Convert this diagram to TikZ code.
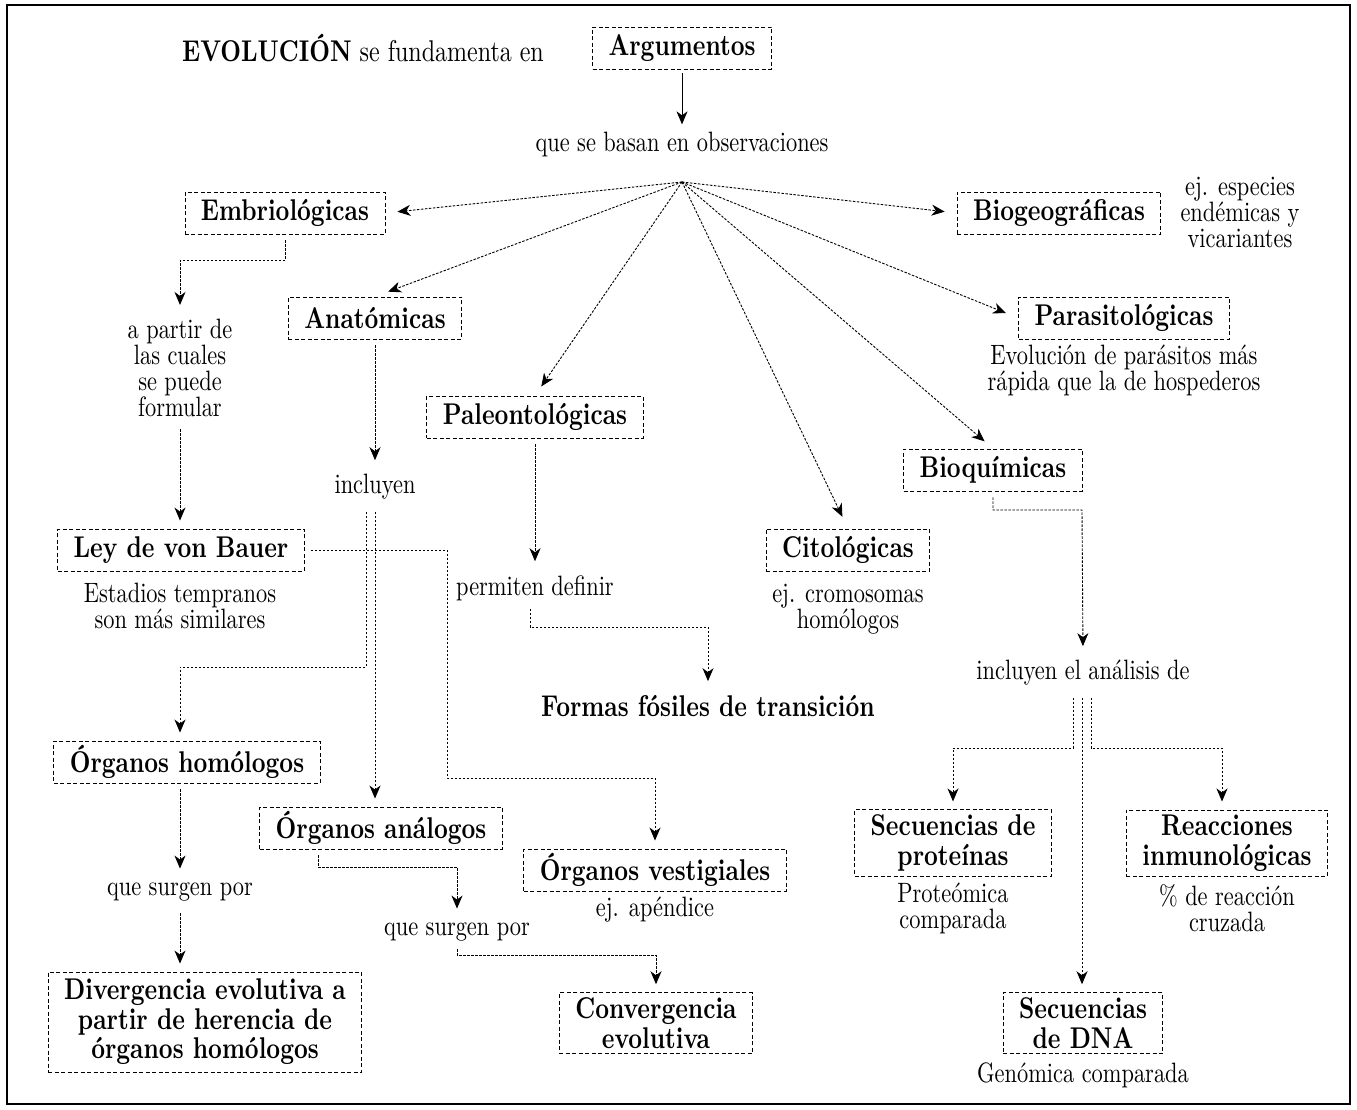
\documentclass[tikz,border=0pt]{standalone}
\usepackage{fontspec}
\setmainfont{lmroman10}[Extension=.otf, UprightFont=*-regular, BoldFont=*-bold, FakeStretch=0.8]
\usetikzlibrary{arrows.meta}
\tikzset{
  box/.style={draw, dash pattern=on 4pt off 2.5pt, line width=0.9pt,
    font=\bfseries\fontsize{30}{29.5}\selectfont, align=center,
    inner xsep=16pt, inner ysep=2pt, minimum height=42pt},
  tallbox/.style={box, inner ysep=5pt},
  note/.style={font=\fontsize{28}{26}\selectfont, align=center, inner sep=6pt},
  conn/.style={-{Stealth[length=13pt,width=11pt,inset=4pt]},
    dash pattern=on 2.5pt off 1.5pt, line width=0.9pt,
    shorten <=6pt, shorten >=8pt},
}

\begin{document}
\begin{tikzpicture}[x=1pt,y=-1pt]
\useasboundingbox (0,0) rectangle (1357,1110);
\draw[line width=1.4pt] (7,5) rectangle (1350,1104);

% top
\node[note, font=\fontsize{30}{26}\selectfont] (title) at (363,48) {\textbf{EVOLUCIÓN} se fundamenta en};
\node[box] (arg) at (682,48) {Argumentos};
\node[note] (basan) at (682,145) {que se basan en observaciones};
\coordinate (hub) at (682,182);
\draw[-{Stealth[length=13pt,width=11pt,inset=4pt]}, line width=0.9pt, shorten <=4pt, shorten >=2pt] (arg) -- (basan);

% kinds of evidence
\node[box] (embr) at (285,213) {Embriológicas};
\node[box] (biogeo) at (1059,213) {Biogeográficas};
\node[note] (ejbio) at (1240,212) {ej. especies\\endémicas y\\vicariantes};
\node[box] (anat) at (375,318) {Anatómicas};
\node[box] (parasit) at (1124,318) {Parasitológicas};
\node[note] (evopar) at (1124,370) {Evolución de parásitos más\\rápida que la de hospederos};
\node[box] (paleo) at (535,417) {Paleontológicas};
\node[box] (bioq) at (993,470) {Bioquímicas};
\node[box] (cito) at (848,550) {Citológicas};
\node[note] (ejcito) at (848,609) {ej. cromosomas\\homólogos};

\draw[conn, shorten <=0pt, shorten >=12pt] (hub) -- (embr.east);
\draw[conn, shorten <=0pt, shorten >=12pt] (hub) -- (biogeo.west);
\draw[conn, shorten <=0pt, shorten >=14pt] (hub) -- (anat.north);
\draw[conn, shorten <=0pt, shorten >=11pt] (hub) -- (paleo.north);
\draw[conn, shorten <=0pt, shorten >=13pt] (hub) -- (cito.north);
\draw[conn, shorten <=0pt, shorten >=11pt] (hub) -- (bioq.north);
\draw[conn, shorten <=0pt, shorten >=13pt] (hub) -- (parasit.west);

% embriologicas
\node[note] (apartir) at (180,368) {a partir de\\las cuales\\se puede\\formular};
\node[box] (bauer) at (181,550) {Ley de von Bauer};
\node[note] (estadios) at (180,606) {Estadios tempranos\\son más similares};
\draw[conn] (embr.south) -- ++(0,26) -| (apartir.north);
\draw[conn] (apartir.south) -- (apartir.south |- bauer.north);

% anatomicas
\node[note] (incluyen) at (375,487) {incluyen};
\node[box] (homol) at (187,762) {Órganos homólogos};
\node[box] (analog) at (381,828) {Órganos análogos};
\node[box] (vestig) at (655,870) {Órganos vestigiales};
\node[note] (apendice) at (655,910) {ej. apéndice};
\node[note] (surgenA) at (180,892) {que surgen por};
\node[note] (surgenB) at (457,932) {que surgen por};
\node[tallbox, minimum height=100pt] (diverg) at (205,1022) {Divergencia evolutiva a\\partir de herencia de\\órganos homólogos};
\node[tallbox] (converg) at (656,1023) {Convergencia\\evolutiva};
\coordinate (kA) at (366,667);
\coordinate (kB) at (457,867);
\coordinate (kC) at (656,955);
\coordinate (kH) at (447,778);
\draw[conn] (anat.south) -- (incluyen.north);
\draw[conn] ([xshift=-9pt]incluyen.south) |- (kA) -| ([xshift=-7pt]homol.north);
\draw[conn] (incluyen.south) -- (incluyen.south |- analog.north);
\draw[conn] (bauer.east) -| (kH) -| (vestig.north);
\draw[conn] ([xshift=-7pt]homol.south) -- (surgenA.north);
\draw[conn] (surgenA.south) -- (surgenA.south |- diverg.north);
\draw[conn] ([xshift=-63pt]analog.south) |- (kB) -- (surgenB.north);
\draw[conn, shorten <=2pt] (surgenB.south) |- (kC) -- (converg.north);

% paleontologicas
\node[note] (permiten) at (535,588) {permiten definir};
\node[note, font=\bfseries\fontsize{30}{29.5}\selectfont] (formas) at (708,706) {Formas fósiles de transición};
\coordinate (kD) at (708,627);
\draw[conn] (paleo.south) -- (permiten.north);
\draw[conn, shorten <=2pt] ([xshift=-5pt]permiten.south) |- (kD) -- (formas.north);

% bioquimicas
\node[note] (analisis) at (1083,673) {incluyen el análisis de};
\node[tallbox] (protein) at (953,843) {Secuencias de\\proteínas};
\node[note] (proteo) at (953,908) {Proteómica\\comparada};
\node[tallbox] (reacc) at (1227,843) {Reacciones\\inmunológicas};
\node[note] (cruzada) at (1227,908) {\% de reacción\\cruzada};
\node[tallbox] (dna) at (1083,1023) {Secuencias\\de DNA};
\node[note] (genomica) at (1083,1075) {Genómica comparada};
\coordinate (kE) at (1082,510);
\coordinate (kF) at (953,748);
\coordinate (kG) at (1222,748);
\draw[conn] (bioq.south) |- (kE) -- (analisis.north);
\draw[conn] ([xshift=-10pt]analisis.south) |- (kF) -- (protein.north);
\draw[conn] ([xshift=8pt]analisis.south) |- (kG) -- (kG |- reacc.north);
\draw[conn] ([xshift=-1pt]analisis.south) -- ([xshift=-1pt]analisis.south |- dna.north);
\end{tikzpicture}
\end{document}
